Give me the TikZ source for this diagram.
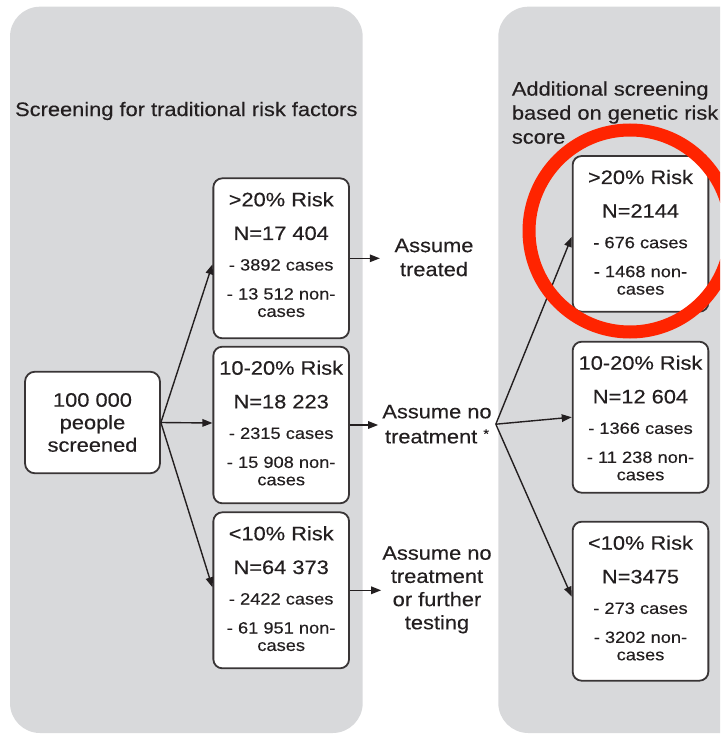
\documentclass[tikz,border=0pt]{standalone}
\usepackage{fontspec}
\setmainfont{Liberation Sans}[FakeStretch=1.12, FakeBold=0.3]
\usetikzlibrary{arrows.meta,calc}

\definecolor{panelgray}{RGB}{216,217,219}
\definecolor{ink}{RGB}{35,31,32}
\definecolor{ringred}{RGB}{255,36,0}

\newcommand\bigtxt{\fontsize{19.5}{24}\selectfont}
\newcommand\smalltxt{\fontsize{16.3}{19}\selectfont}

% risk box: name, centre x, top y, height, title, N line, cases, non-cases
\newcommand\riskbox[8]{%
  \node[riskframe, minimum height=#4pt] (#1) at (#2,#3+#4/2) {};
  \node[boxline, font=\bigtxt]   (#1t) at ($(#1.north)+(0,28.9)$) {#5};
  \node[boxline, font=\bigtxt]   (#1n) at ($(#1.north)+(0,62.6)$) {#6};
  \node[boxline, font=\smalltxt] (#1c) at ($(#1.north)+(0,93.1)$) {- #7 cases};
  \node[boxline, font=\smalltxt] (#1d) at ($(#1.north)+(0,122.1)$) {- #8 non-};
  \node[boxline, font=\smalltxt] (#1e) at ($(#1.north)+(0,139.5)$) {cases};
}

\tikzset{
  panel/.style={fill=panelgray, draw=none, rounded corners=30pt},
  riskframe/.style={draw=ink!90, line width=1.8pt, rounded corners=9pt,
    fill=white, minimum width=135.7pt, inner sep=0pt},
  boxline/.style={anchor=base, inner sep=0pt, text=ink},
  note/.style={align=center, text=ink, inner ysep=0pt},
  arr/.style={draw=ink, line width=1.4pt, -{Triangle[length=10pt,width=7.5pt]}},
}

\begin{document}
\begin{tikzpicture}[x=1pt, y=-1pt]
  \path[use as bounding box] (0,0) rectangle (720,735);
  \clip (0,0) rectangle (720,735);

  % background panels
  \fill[panel] (10,6.7) rectangle (362.7,733);
  \fill[panel] (498.3,6.7) rectangle (780,733);

  % panel headings
  \node[font=\bigtxt, text=ink, inner sep=0pt] (lefttitle) at (186.3,111)
    {Screening for traditional risk factors};
  \node[font=\bigtxt, text=ink, align=left, anchor=north west, inner sep=0pt]
    (righttitle) at (511.7,81.3)
    {Additional screening\\based on genetic risk\\score};

  % starting population
  \node[draw=ink!90, line width=1.8pt, rounded corners=10pt, fill=white,
        minimum width=135pt, minimum height=101.6pt, align=center, text=ink,
        font=\fontsize{19.5}{22.5}\selectfont] (start) at (92.5,422.5)
    {100 000\\people\\screened};

  % traditional risk strata
  \riskbox{A}{281.2}{178.3}{160}{>20\% Risk}{N=17 404}{3892}{13 512}
  \riskbox{B}{281.2}{346.7}{156.6}{10-20\% Risk}{N=18 223}{2315}{15 908}
  \riskbox{C}{281.2}{512.3}{156}{<10\% Risk}{N=64 373}{2422}{61 951}

  % genetic risk strata
  \riskbox{D}{640.5}{156}{155.7}{>20\% Risk}{N=2144}{676}{1468}
  \riskbox{E}{640.5}{341.7}{151}{10-20\% Risk}{N=12 604}{1366}{11 238}
  \riskbox{F}{640.5}{521.7}{159}{<10\% Risk}{N=3475}{273}{3202}

  % treatment assumptions
  \node[note, font=\bigtxt, inner xsep=14.5pt] (T1) at (434,257.5)
    {Assume\\treated};
  \node[note, font=\fontsize{19.5}{25}\selectfont, inner xsep=4pt] (T2) at (437,424.2)
    {Assume no\\treatment {\fontsize{13}{13}\selectfont\raisebox{5pt}{*}}};
  \node[note, font=\fontsize{19.5}{23.2}\selectfont, inner xsep=1pt] (T3) at (437,589.8)
    {Assume no\\treatment\\or further\\testing};

  % connectors
  \draw[arr] (start.east) -- ([yshift=-6pt]A.west);
  \draw[arr] (start.east) -- ([yshift=2pt]B.west);
  \draw[arr] (start.east) -- ([yshift=3pt]C.west);

  \draw[arr] (A.east) -- (A.east -| T1.west);
  \draw[arr] (B.east) -- (B.east -| T2.west);
  \draw[arr] (C.east) -- (C.east -| T3.west);

  \draw[arr] (T2.east) -- ([yshift=-3pt]D.west);
  \draw[arr] (T2.east) -- (E.west);
  \draw[arr] (T2.east) -- ([yshift=4.5pt]F.west);

  % highlight ring
  \draw[ringred, line width=13pt] (630,231) circle[radius=101pt];
\end{tikzpicture}
\end{document}
